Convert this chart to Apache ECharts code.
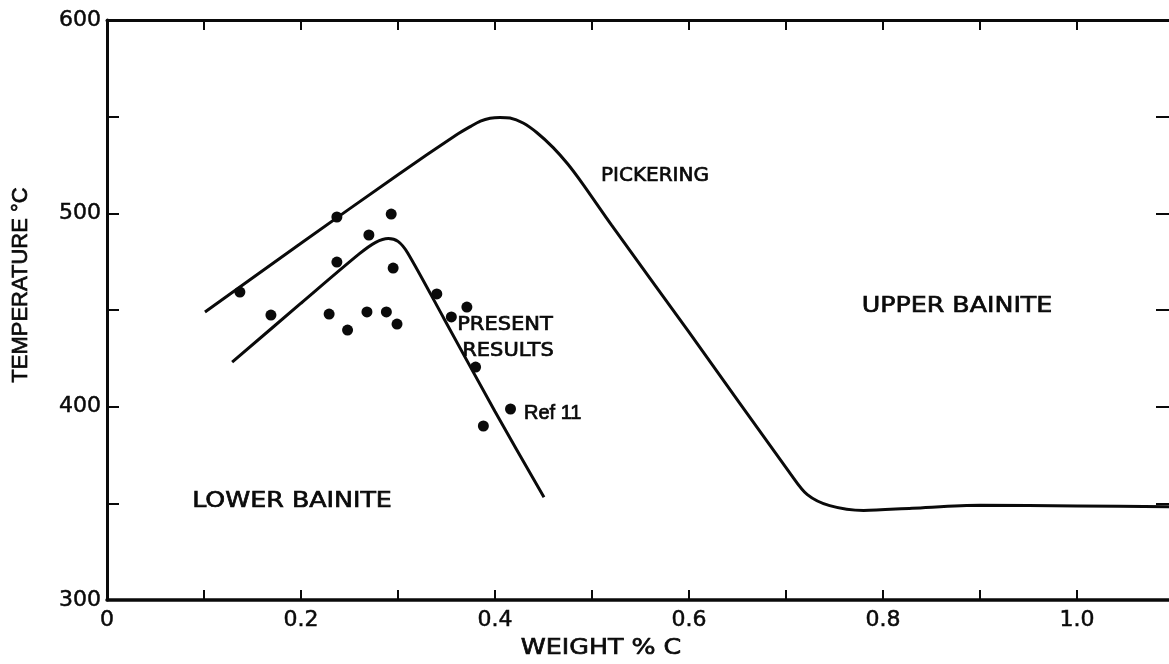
<!DOCTYPE html>
<html>
<head>
<meta charset="utf-8">
<script src="https://cdn.jsdelivr.net/npm/echarts@6/dist/echarts.min.js"></script>
<style>
html,body{margin:0;padding:0;background:#fff;}
#chart{width:1169px;height:664px;}
</style>
</head>
<body>
<div id="chart"></div>
<script>
// Pickering boundary curve [wt% C, temperature °C]
const pickeringCurve = [
  [0.101, 449], [0.20, 484.5], [0.30, 520], [0.36, 540.5], [0.375, 545], [0.385, 547.7],
  [0.395, 549.2], [0.405, 549.6], [0.4155, 549.3], [0.429, 546.7], [0.443, 541.8],
  [0.46, 534], [0.475, 525.5], [0.49, 515.5], [0.52, 494], [0.60, 438.5],
  [0.705, 365], [0.722, 354.5], [0.745, 348.8], [0.78, 346.3], [0.83, 347.5],
  [0.90, 349], [1.0, 348.6], [1.1, 348.2]
];
// Present results boundary curve
const presentCurve = [
  [0.129, 423], [0.20, 453.5], [0.26, 479], [0.277, 485], [0.29, 487], [0.30, 485.5],
  [0.31, 479.5], [0.348, 445], [0.40, 397.5], [0.4505, 353.2]
];
// Present results data points
const presentPoints = [
  [0.137, 459.3], [0.169, 447.4], [0.237, 498.1], [0.293, 499.6], [0.270, 488.8],
  [0.237, 474.8], [0.295, 471.7], [0.229, 447.9], [0.248, 439.6], [0.268, 449],
  [0.288, 449], [0.299, 442.7], [0.340, 458.3], [0.371, 451.5], [0.355, 446.4],
  [0.380, 420.5], [0.388, 390]
];
// Ref 11 point
const ref11Points = [[0.416, 398.8]];

const xTickLabels = ['0', '0.2', '0.4', '0.6', '0.8', '1.0'];
const yTickLabels = ['300', '400', '500', '600'];

const chart = echarts.init(document.getElementById('chart'), null, {renderer: 'canvas'});
const ink = '#0a0a0a';
const lettering = 'DejaVu Sans';

function xLabel(v) {
  const k = Math.round(v * 10);
  if (k % 2 !== 0) return '';
  const idx = k / 2;
  return idx < xTickLabels.length ? xTickLabels[idx] : '';
}
function yLabel(v) {
  const r = Math.round(v);
  if (r % 100 !== 0) return '';
  const s = String(r);
  return yTickLabels.indexOf(s) >= 0 ? s : '';
}
function txt(text, x, y, font, sx, align, rot) {
  const el = {type: 'text', x: x, y: y,
    style: {text: text, font: font, fill: ink, stroke: ink, lineWidth: 0.7,
      textAlign: align || 'center', textVerticalAlign: 'middle'}};
  if (sx) el.scaleX = sx;
  if (rot) el.rotation = rot;
  return el;
}

const option = {
  backgroundColor: '#fff',
  animation: false,
  grid: {left: 107, top: 20, width: 1067, height: 580, containLabel: false, outerBoundsMode: 'none'},
  xAxis: [
    {
      type: 'value', min: 0, max: 1.1, interval: 0.1, position: 'bottom',
      axisLine: {show: true, onZero: false, lineStyle: {color: ink, width: 3.5}},
      axisTick: {show: true, inside: true, length: 10, lineStyle: {color: ink, width: 2}},
      axisLabel: {show: true, formatter: xLabel, color: ink, fontFamily: lettering, fontSize: 22, margin: 9,
        textBorderColor: ink, textBorderWidth: 0.5, showMaxLabel: false},
      splitLine: {show: false}
    },
    {
      type: 'value', min: 0, max: 1.1, interval: 0.1, position: 'top',
      axisLine: {show: true, onZero: false, lineStyle: {color: ink, width: 3}},
      axisTick: {show: true, inside: true, length: 10, lineStyle: {color: ink, width: 2}},
      axisLabel: {show: false},
      splitLine: {show: false}
    }
  ],
  yAxis: [
    {
      type: 'value', min: 300, max: 600, interval: 50, position: 'left',
      axisLine: {show: true, onZero: false, lineStyle: {color: ink, width: 3}},
      axisTick: {show: true, inside: true, length: 12, lineStyle: {color: ink, width: 2}},
      axisLabel: {show: true, formatter: yLabel, color: ink, fontFamily: lettering, fontSize: 22, margin: 6,
        textBorderColor: ink, textBorderWidth: 0.5},
      splitLine: {show: false}
    },
    {
      type: 'value', min: 300, max: 600, interval: 50, position: 'right',
      axisLine: {show: true, onZero: false, lineStyle: {color: ink, width: 3}},
      axisTick: {show: true, inside: true, length: 18, lineStyle: {color: ink, width: 2}},
      axisLabel: {show: false},
      splitLine: {show: false}
    }
  ],
  series: [
    {
      name: 'Pickering', type: 'line', data: pickeringCurve, xAxisIndex: 0, yAxisIndex: 0,
      smooth: 0.3, symbol: 'none', lineStyle: {color: ink, width: 3}
    },
    {
      name: 'Present results curve', type: 'line', data: presentCurve, xAxisIndex: 0, yAxisIndex: 0,
      smooth: 0.3, symbol: 'none', lineStyle: {color: ink, width: 3}
    },
    {
      name: 'Present results', type: 'scatter', data: presentPoints,
      symbol: 'circle', symbolSize: 11, itemStyle: {color: ink, opacity: 1}
    },
    {
      name: 'Ref 11', type: 'scatter', data: ref11Points,
      symbol: 'circle', symbolSize: 11, itemStyle: {color: ink, opacity: 1}
    }
  ],
  graphic: [
    txt('TEMPERATURE °C', 21, 285, '22px "Liberation Sans"', 0, 'center', Math.PI / 2),
    txt('WEIGHT % C', 601, 648, '22px "DejaVu Sans"', 1.15),
    txt('PICKERING', 655, 176, '20px "DejaVu Sans"', 0),
    txt('UPPER BAINITE', 957, 306, '22px "DejaVu Sans"', 1.15),
    txt('LOWER BAINITE', 292, 501, '22px "DejaVu Sans"', 1.15),
    txt('PRESENT', 505, 325, '20px "DejaVu Sans"', 1.05),
    txt('RESULTS', 508, 351, '20px "DejaVu Sans"', 1.05),
    txt('Ref 11', 524, 413, '20px "Liberation Sans"', 0, 'left')
  ]
};
chart.setOption(option);
</script>
</body>
</html>
